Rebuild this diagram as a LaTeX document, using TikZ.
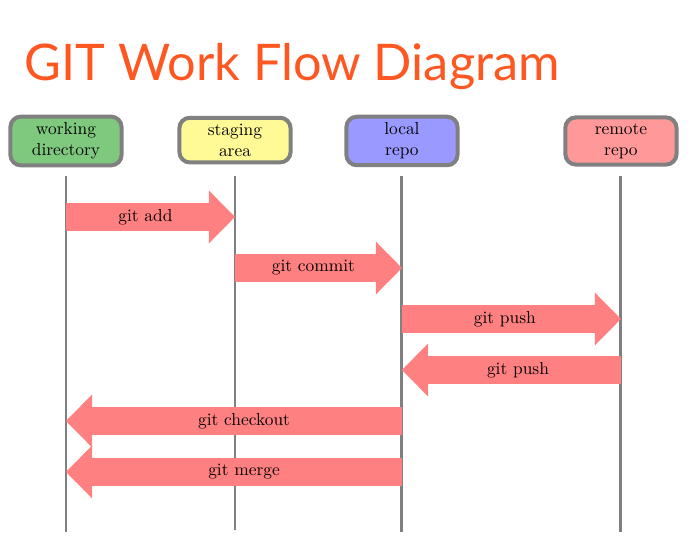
\documentclass[tikz,border=0pt]{standalone}
\usepackage{fontspec}
\newfontfamily\titlefont{Lato}
\usetikzlibrary{arrows.meta}

\definecolor{titleorange}{RGB}{255,87,34}
\definecolor{wdgreen}{RGB}{127,201,127}
\definecolor{sayellow}{RGB}{255,250,150}
\definecolor{lrblue}{RGB}{153,153,255}
\definecolor{rrred}{RGB}{255,153,153}

\begin{document}
\begin{tikzpicture}[
  box/.style={draw=gray, line width=2.3pt, rounded corners=6pt,
              text width=2cm, align=center, inner sep=3.5pt},
  lifeline/.style={draw=gray, line width=1.7pt},
  flow/.style={draw=red!50, line width=16.6pt,
               -{Triangle[length=15pt,width=30.4pt,line width=0pt]}}
]
\useasboundingbox (0,0) rectangle (14,-11.07);
\node[anchor=base west, text=titleorange,
      font=\titlefont\fontsize{29}{34}\selectfont] (title) at (0.37,-1.616)
  {GIT Work Flow Diagram};

% the four places
\node[box, fill=wdgreen]  (wd) at (1.333,-2.848)  {working\\directory};
\node[box, fill=sayellow] (sa) at (4.747,-2.83)   {staging\\area};
\node[box, fill=lrblue]   (lr) at (8.12,-2.848)   {local\\repo};
\node[box, fill=rrred]    (rr) at (12.544,-2.848) {remote\\repo};

\draw[lifeline] (wd |- 0,-3.555) -- (wd |- 0,-10.746);
\draw[lifeline] (sa |- 0,-3.555) -- (sa |- 0,-10.71);
\draw[lifeline] (lr |- 0,-3.555) -- (lr |- 0,-10.746);
\draw[lifeline] (rr |- 0,-3.555) -- (rr |- 0,-10.746);

% the commands
\draw[flow] (wd |- 0,-4.383) -- (sa |- 0,-4.383) node[pos=.47]{git add};
\draw[flow] (sa |- 0,-5.414) -- (lr |- 0,-5.414) node[pos=.47]{git commit};
\draw[flow] (lr |- 0,-6.444) -- (rr |- 0,-6.444) node[pos=.47]{git push};
\draw[flow] (rr |- 0,-7.474) -- (lr |- 0,-7.474) node[pos=.47]{git push};
\draw[flow] (lr |- 0,-8.504) -- (wd |- 0,-8.504) node[pos=.47]{git checkout};
\draw[flow] (lr |- 0,-9.534) -- (wd |- 0,-9.534) node[pos=.47]{git merge};
\end{tikzpicture}
\end{document}
